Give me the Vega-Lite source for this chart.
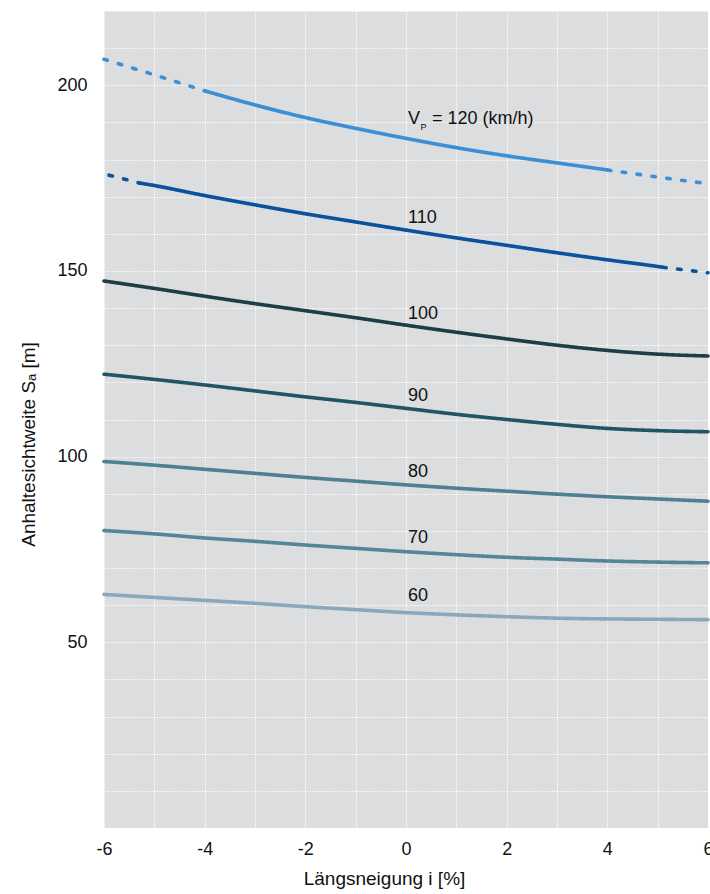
{
  "$schema": "https://vega.github.io/schema/vega-lite/v6.json",
  "width": 604,
  "height": 817,
  "autosize": "none",
  "padding": {"left": 104, "top": 11, "right": 2, "bottom": 66},
  "background": "white",
  "config": {
    "view": {"fill": "#dcdddf", "stroke": null},
    "font": "Liberation Sans",
    "axis": {
      "grid": true,
      "gridColor": "#ffffff",
      "gridDash": [1.2, 1.3],
      "gridWidth": 1.1,
      "gridOpacity": 1,
      "ticks": false,
      "domain": false,
      "labelFlush": false,
      "labelFontSize": 18,
      "labelColor": "#111111",
      "titleFontSize": 19,
      "titleFontWeight": "normal",
      "titleColor": "#111111"
    }
  },
  "datasets": {
    "curves": [
      {"v": 120, "seg": "a", "style": "dashed", "i": -6, "s": 207.0},
      {"v": 120, "seg": "a", "style": "dashed", "i": -5, "s": 202.8},
      {"v": 120, "seg": "a", "style": "dashed", "i": -4, "s": 198.5},
      {"v": 120, "seg": "b", "style": "solid", "i": -4, "s": 198.5},
      {"v": 120, "seg": "b", "style": "solid", "i": -3, "s": 194.7},
      {"v": 120, "seg": "b", "style": "solid", "i": -2, "s": 191.3},
      {"v": 120, "seg": "b", "style": "solid", "i": -1, "s": 188.4},
      {"v": 120, "seg": "b", "style": "solid", "i": 0, "s": 185.7},
      {"v": 120, "seg": "b", "style": "solid", "i": 1, "s": 183.2},
      {"v": 120, "seg": "b", "style": "solid", "i": 2, "s": 181.0},
      {"v": 120, "seg": "b", "style": "solid", "i": 3, "s": 179.1},
      {"v": 120, "seg": "b", "style": "solid", "i": 4, "s": 177.2},
      {"v": 120, "seg": "c", "style": "dashed", "i": 4, "s": 177.2},
      {"v": 120, "seg": "c", "style": "dashed", "i": 5, "s": 175.3},
      {"v": 120, "seg": "c", "style": "dashed", "i": 6, "s": 173.5},
      {"v": 110, "seg": "a", "style": "dashed", "i": -5.9, "s": 175.8},
      {"v": 110, "seg": "a", "style": "dashed", "i": -5.3, "s": 173.7},
      {"v": 110, "seg": "b", "style": "solid", "i": -5.3, "s": 173.7},
      {"v": 110, "seg": "b", "style": "solid", "i": -5, "s": 173.0},
      {"v": 110, "seg": "b", "style": "solid", "i": -4, "s": 170.3},
      {"v": 110, "seg": "b", "style": "solid", "i": -3, "s": 167.8},
      {"v": 110, "seg": "b", "style": "solid", "i": -2, "s": 165.4},
      {"v": 110, "seg": "b", "style": "solid", "i": -1, "s": 163.2},
      {"v": 110, "seg": "b", "style": "solid", "i": 0, "s": 161.0},
      {"v": 110, "seg": "b", "style": "solid", "i": 1, "s": 158.9},
      {"v": 110, "seg": "b", "style": "solid", "i": 2, "s": 156.9},
      {"v": 110, "seg": "b", "style": "solid", "i": 3, "s": 154.9},
      {"v": 110, "seg": "b", "style": "solid", "i": 4, "s": 153.0},
      {"v": 110, "seg": "b", "style": "solid", "i": 5, "s": 151.2},
      {"v": 110, "seg": "b", "style": "solid", "i": 5.1, "s": 151.0},
      {"v": 110, "seg": "c", "style": "dashed", "i": 5.1, "s": 151.0},
      {"v": 110, "seg": "c", "style": "dashed", "i": 6, "s": 149.5},
      {"v": 100, "seg": "a", "style": "solid", "i": -6, "s": 147.3},
      {"v": 100, "seg": "a", "style": "solid", "i": -5, "s": 145.3},
      {"v": 100, "seg": "a", "style": "solid", "i": -4, "s": 143.2},
      {"v": 100, "seg": "a", "style": "solid", "i": -3, "s": 141.2},
      {"v": 100, "seg": "a", "style": "solid", "i": -2, "s": 139.3},
      {"v": 100, "seg": "a", "style": "solid", "i": -1, "s": 137.4},
      {"v": 100, "seg": "a", "style": "solid", "i": 0, "s": 135.4},
      {"v": 100, "seg": "a", "style": "solid", "i": 1, "s": 133.5},
      {"v": 100, "seg": "a", "style": "solid", "i": 2, "s": 131.7},
      {"v": 100, "seg": "a", "style": "solid", "i": 3, "s": 130.0},
      {"v": 100, "seg": "a", "style": "solid", "i": 4, "s": 128.6},
      {"v": 100, "seg": "a", "style": "solid", "i": 5, "s": 127.6},
      {"v": 100, "seg": "a", "style": "solid", "i": 6, "s": 127.1},
      {"v": 90, "seg": "a", "style": "solid", "i": -6, "s": 122.2},
      {"v": 90, "seg": "a", "style": "solid", "i": -5, "s": 120.8},
      {"v": 90, "seg": "a", "style": "solid", "i": -4, "s": 119.3},
      {"v": 90, "seg": "a", "style": "solid", "i": -3, "s": 117.7},
      {"v": 90, "seg": "a", "style": "solid", "i": -2, "s": 116.1},
      {"v": 90, "seg": "a", "style": "solid", "i": -1, "s": 114.6},
      {"v": 90, "seg": "a", "style": "solid", "i": 0, "s": 113.0},
      {"v": 90, "seg": "a", "style": "solid", "i": 1, "s": 111.4},
      {"v": 90, "seg": "a", "style": "solid", "i": 2, "s": 110.0},
      {"v": 90, "seg": "a", "style": "solid", "i": 3, "s": 108.7},
      {"v": 90, "seg": "a", "style": "solid", "i": 4, "s": 107.6},
      {"v": 90, "seg": "a", "style": "solid", "i": 5, "s": 107.0},
      {"v": 90, "seg": "a", "style": "solid", "i": 6, "s": 106.7},
      {"v": 80, "seg": "a", "style": "solid", "i": -6, "s": 98.7},
      {"v": 80, "seg": "a", "style": "solid", "i": -5, "s": 97.7},
      {"v": 80, "seg": "a", "style": "solid", "i": -4, "s": 96.6},
      {"v": 80, "seg": "a", "style": "solid", "i": -3, "s": 95.5},
      {"v": 80, "seg": "a", "style": "solid", "i": -2, "s": 94.4},
      {"v": 80, "seg": "a", "style": "solid", "i": -1, "s": 93.4},
      {"v": 80, "seg": "a", "style": "solid", "i": 0, "s": 92.4},
      {"v": 80, "seg": "a", "style": "solid", "i": 1, "s": 91.5},
      {"v": 80, "seg": "a", "style": "solid", "i": 2, "s": 90.7},
      {"v": 80, "seg": "a", "style": "solid", "i": 3, "s": 89.9},
      {"v": 80, "seg": "a", "style": "solid", "i": 4, "s": 89.2},
      {"v": 80, "seg": "a", "style": "solid", "i": 5, "s": 88.6},
      {"v": 80, "seg": "a", "style": "solid", "i": 6, "s": 88.0},
      {"v": 70, "seg": "a", "style": "solid", "i": -6, "s": 80.1},
      {"v": 70, "seg": "a", "style": "solid", "i": -5, "s": 79.2},
      {"v": 70, "seg": "a", "style": "solid", "i": -4, "s": 78.1},
      {"v": 70, "seg": "a", "style": "solid", "i": -3, "s": 77.2},
      {"v": 70, "seg": "a", "style": "solid", "i": -2, "s": 76.2},
      {"v": 70, "seg": "a", "style": "solid", "i": -1, "s": 75.3},
      {"v": 70, "seg": "a", "style": "solid", "i": 0, "s": 74.4},
      {"v": 70, "seg": "a", "style": "solid", "i": 1, "s": 73.6},
      {"v": 70, "seg": "a", "style": "solid", "i": 2, "s": 72.9},
      {"v": 70, "seg": "a", "style": "solid", "i": 3, "s": 72.4},
      {"v": 70, "seg": "a", "style": "solid", "i": 4, "s": 71.9},
      {"v": 70, "seg": "a", "style": "solid", "i": 5, "s": 71.6},
      {"v": 70, "seg": "a", "style": "solid", "i": 6, "s": 71.4},
      {"v": 60, "seg": "a", "style": "solid", "i": -6, "s": 62.9},
      {"v": 60, "seg": "a", "style": "solid", "i": -5, "s": 62.1},
      {"v": 60, "seg": "a", "style": "solid", "i": -4, "s": 61.3},
      {"v": 60, "seg": "a", "style": "solid", "i": -3, "s": 60.5},
      {"v": 60, "seg": "a", "style": "solid", "i": -2, "s": 59.6},
      {"v": 60, "seg": "a", "style": "solid", "i": -1, "s": 58.8},
      {"v": 60, "seg": "a", "style": "solid", "i": 0, "s": 58.0},
      {"v": 60, "seg": "a", "style": "solid", "i": 1, "s": 57.4},
      {"v": 60, "seg": "a", "style": "solid", "i": 2, "s": 56.9},
      {"v": 60, "seg": "a", "style": "solid", "i": 3, "s": 56.5},
      {"v": 60, "seg": "a", "style": "solid", "i": 4, "s": 56.3},
      {"v": 60, "seg": "a", "style": "solid", "i": 5, "s": 56.2},
      {"v": 60, "seg": "a", "style": "solid", "i": 6, "s": 56.1}
    ],
    "labels": [
      {"v": 120, "i": 0, "s": 189.7, "part": "main", "label": "V"},
      {"v": 120, "i": 0, "s": 189.7, "part": "sub", "label": "P"},
      {"v": 120, "i": 0, "s": 189.7, "part": "rest", "label": "= 120 (km/h)"},
      {"v": 110, "i": 0, "s": 162.8, "part": "main", "label": "110"},
      {"v": 100, "i": 0, "s": 137.0, "part": "main", "label": "100"},
      {"v": 90, "i": 0, "s": 115.0, "part": "main", "label": "90"},
      {"v": 80, "i": 0, "s": 94.6, "part": "main", "label": "80"},
      {"v": 70, "i": 0, "s": 76.7, "part": "main", "label": "70"},
      {"v": 60, "i": 0, "s": 61.1, "part": "main", "label": "60"}
    ]
  },
  "encoding": {
    "x": {
      "field": "i",
      "type": "quantitative",
      "scale": {"domain": [-6, 6], "nice": false, "zero": false},
      "axis": {
        "values": [-6, -5, -4, -3, -2, -1, 0, 1, 2, 3, 4, 5, 6],
        "labelExpr": "datum.value % 2 === 0 ? '' + datum.value : ''",
        "labelPadding": 12,
        "title": "Längsneigung i [%]",
        "titlePadding": 11,
        "titleX": 280
      }
    },
    "y": {
      "field": "s",
      "type": "quantitative",
      "scale": {"domain": [0, 220], "nice": false},
      "axis": {
        "values": [0, 10, 20, 30, 40, 50, 60, 70, 80, 90, 100, 110, 120, 130, 140, 150, 160, 170, 180, 190, 200, 210, 220],
        "labelExpr": "datum.value % 50 === 0 && datum.value > 0 ? '' + datum.value : ''",
        "labelPadding": 17,
        "title": "Anhaltesichtweite Sₐ [m]",
        "titlePadding": 18,
        "titleY": 433
      }
    }
  },
  "layer": [
    {
      "data": {"name": "curves"},
      "mark": {"type": "line", "interpolate": "monotone", "strokeWidth": 3.6, "strokeCap": "round"},
      "encoding": {
        "color": {
          "field": "v",
          "type": "nominal",
          "scale": {
            "domain": [120, 110, 100, 90, 80, 70, 60],
            "range": ["#3b8fd5", "#0b519b", "#1c3f47", "#1f5565", "#4f7f94", "#55859b", "#8aa8bb"]
          },
          "legend": null
        },
        "strokeDash": {
          "field": "style",
          "type": "nominal",
          "scale": {"domain": ["solid", "dashed"], "range": [[1, 0], [3.5, 11.5]]},
          "legend": null
        },
        "detail": {"field": "seg"}
      }
    },
    {
      "data": {"name": "labels"},
      "transform": [{"filter": "datum.part === 'main'"}],
      "mark": {"type": "text", "align": "left", "baseline": "alphabetic", "dx": 2, "fontSize": 18, "color": "#111111"},
      "encoding": {"text": {"field": "label"}}
    },
    {
      "data": {"name": "labels"},
      "transform": [{"filter": "datum.part === 'sub'"}],
      "mark": {"type": "text", "align": "left", "baseline": "alphabetic", "dx": 14.5, "dy": 6, "fontSize": 9, "color": "#111111"},
      "encoding": {"text": {"field": "label"}}
    },
    {
      "data": {"name": "labels"},
      "transform": [{"filter": "datum.part === 'rest'"}],
      "mark": {"type": "text", "align": "left", "baseline": "alphabetic", "dx": 26, "fontSize": 18, "color": "#111111"},
      "encoding": {"text": {"field": "label"}}
    }
  ]
}
